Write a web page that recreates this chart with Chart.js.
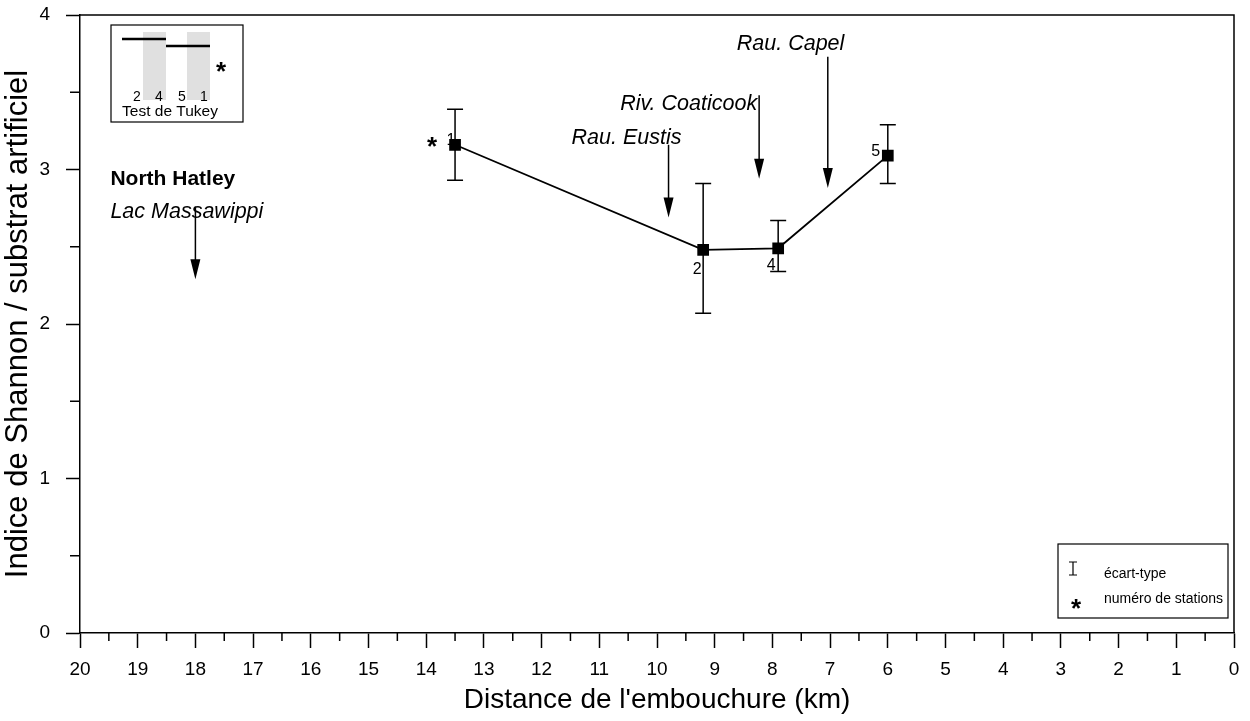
<!DOCTYPE html>
<html>
<head>
<meta charset="utf-8">
<script src="https://cdn.jsdelivr.net/npm/chart.js@4/dist/chart.umd.min.js"></script>
<style>
  html, body { margin: 0; padding: 0; background: #fff; }
  #wrap { width: 1250px; height: 721px; }
</style>
</head>
<body>
<div id="wrap"><canvas id="shannonChart" width="1250" height="721"></canvas></div>
<script>
// Stations along the river: distance to the mouth and Shannon index (mean, +/- sd)
const stations = ['1', '2', '4', '5'];
const distanceKm = [13.5, 9.2, 7.9, 6.0];
const shannon = [3.16, 2.48, 2.49, 3.09];
const sdHigh = [3.39, 2.91, 2.67, 3.29];
const sdLow = [2.93, 2.07, 2.34, 2.91];

// Tributaries / landmarks marked with arrows
const places = ['Lac Massawippi', 'Rau. Eustis', 'Riv. Coaticook', 'Rau. Capel'];
const placeKm = [18.0, 9.8, 8.23, 7.04];
const arrowFrom = [2.76, 3.16, 3.48, 3.73];
const arrowTo = [2.29, 2.69, 2.94, 2.88];

// Tukey test groups (station order in the inset)
const tukeyOrder = ['2', '4', '5', '1'];

const FONT = "'Liberation Sans', Arial, sans-serif";

// label offsets (px) relative to the arrow start
const placeOffsets = [[-85, 5], [-97, -7], [-139, 9], [-91, -13]];
// station number offsets (px) relative to the marker
const stationOffsets = [[-4, -4], [-6, 20], [-7, 17], [-12, -4]];

function star(ctx, x, y) {
  ctx.save();
  ctx.font = 'bold 26px ' + FONT;
  ctx.textAlign = 'center';
  ctx.textBaseline = 'alphabetic';
  ctx.fillText('*', x, y + 14);
  ctx.restore();
}

const decorations = {
  id: 'decorations',
  beforeDatasetsDraw(chart) {
    const { ctx, scales: { x, y } } = chart;
    ctx.save();
    ctx.strokeStyle = '#000';
    ctx.fillStyle = '#000';
    ctx.lineWidth = 1.5;
    // error bars
    distanceKm.forEach((d, i) => {
      const px = x.getPixelForValue(d);
      const top = y.getPixelForValue(sdHigh[i]);
      const bot = y.getPixelForValue(sdLow[i]);
      ctx.beginPath();
      ctx.moveTo(px, top); ctx.lineTo(px, bot);
      ctx.moveTo(px - 8, top); ctx.lineTo(px + 8, top);
      ctx.moveTo(px - 8, bot); ctx.lineTo(px + 8, bot);
      ctx.stroke();
    });
    // station numbers
    ctx.font = '16px ' + FONT;
    ctx.textAlign = 'center';
    ctx.textBaseline = 'middle';
    stations.forEach((s, i) => {
      const px = x.getPixelForValue(distanceKm[i]);
      const py = y.getPixelForValue(shannon[i]);
      ctx.fillText(s, px + stationOffsets[i][0], py + stationOffsets[i][1]);
    });
    ctx.restore();
    // significant station
    star(ctx, x.getPixelForValue(distanceKm[0]) - 23, y.getPixelForValue(shannon[0]) - 4);
  },
  afterDraw(chart) {
    const { ctx, chartArea: a, scales: { x, y } } = chart;
    ctx.save();
    ctx.strokeStyle = '#000';
    ctx.fillStyle = '#000';
    ctx.lineWidth = 1.5;

    // frame top and right
    ctx.beginPath();
    ctx.moveTo(a.left, a.top); ctx.lineTo(a.right, a.top); ctx.lineTo(a.right, a.bottom);
    ctx.stroke();

    // minor ticks
    ctx.beginPath();
    for (let k = 0.5; k < 20; k += 1) {
      const px = x.getPixelForValue(k);
      ctx.moveTo(px, a.bottom); ctx.lineTo(px, a.bottom + 8);
    }
    for (let k = 0.5; k < 4; k += 1) {
      const py = y.getPixelForValue(k);
      ctx.moveTo(a.left, py); ctx.lineTo(a.left - 10, py);
    }
    ctx.stroke();

    // arrows and place names
    places.forEach((name, i) => {
      const px = x.getPixelForValue(placeKm[i]);
      const y0 = y.getPixelForValue(arrowFrom[i]);
      const y1 = y.getPixelForValue(arrowTo[i]);
      ctx.beginPath();
      ctx.moveTo(px, y0); ctx.lineTo(px, y1 - 18);
      ctx.stroke();
      ctx.beginPath();
      ctx.moveTo(px - 5, y1 - 20); ctx.lineTo(px + 5, y1 - 20); ctx.lineTo(px, y1);
      ctx.closePath();
      ctx.fill();
      ctx.font = 'italic 21.5px ' + FONT;
      ctx.textAlign = 'left';
      ctx.textBaseline = 'middle';
      ctx.fillText(name, px + placeOffsets[i][0], y0 + placeOffsets[i][1]);
      if (i === 0) {
        ctx.font = 'bold 21px ' + FONT;
        ctx.fillText('North Hatley', px + placeOffsets[i][0], y0 + placeOffsets[i][1] - 32);
      }
    });

    // Tukey inset
    const bx = a.left + 31, by = a.top + 10;
    ctx.fillStyle = '#e0e0e0';
    ctx.fillRect(bx + 32, by + 7, 23, 68);
    ctx.fillRect(bx + 76, by + 7, 23, 68);
    ctx.fillStyle = '#000';
    ctx.lineWidth = 1.2;
    ctx.strokeRect(bx, by, 132, 97);
    ctx.lineWidth = 2.5;
    ctx.beginPath();
    ctx.moveTo(bx + 11, by + 14); ctx.lineTo(bx + 55, by + 14);
    ctx.moveTo(bx + 55, by + 21); ctx.lineTo(bx + 99, by + 21);
    ctx.stroke();
    ctx.font = '14px ' + FONT;
    ctx.textAlign = 'center';
    ctx.textBaseline = 'middle';
    const nx = [26, 48, 71, 93];
    tukeyOrder.forEach((s, i) => ctx.fillText(s, bx + nx[i], by + 72));
    ctx.font = '15.5px ' + FONT;
    ctx.fillText('Test de Tukey', bx + 59, by + 87);
    star(ctx, bx + 110, by + 41);

    // legend
    const lx = a.right - 176, ly = a.bottom - 89;
    ctx.lineWidth = 1.2;
    ctx.strokeRect(lx, ly, 170, 74);
    ctx.beginPath();
    ctx.moveTo(lx + 15, ly + 18); ctx.lineTo(lx + 15, ly + 31);
    ctx.moveTo(lx + 11, ly + 18); ctx.lineTo(lx + 19, ly + 18);
    ctx.moveTo(lx + 11, ly + 31); ctx.lineTo(lx + 19, ly + 31);
    ctx.stroke();
    star(ctx, lx + 18, ly + 59);
    ctx.font = '14px ' + FONT;
    ctx.textAlign = 'left';
    ctx.fillText('écart-type', lx + 46, ly + 30);
    ctx.fillText('numéro de stations', lx + 46, ly + 55);
    ctx.restore();
  }
};

const ctx = document.getElementById('shannonChart').getContext('2d');

new Chart(ctx, {
  type: 'scatter',
  data: {
    datasets: [{
      label: 'Indice de Shannon',
      data: distanceKm.map((d, i) => ({ x: d, y: shannon[i] })),
      showLine: true,
      borderColor: '#000',
      borderWidth: 1.8,
      backgroundColor: '#000',
      pointStyle: 'rect',
      pointRadius: 7,
      pointHoverRadius: 7
    }]
  },
  options: {
    responsive: false,
    animation: false,
    devicePixelRatio: 1,
    layout: { padding: { top: 15, right: 16, left: 0, bottom: 0 } },
    plugins: { legend: { display: false }, tooltip: { enabled: false } },
    scales: {
      x: {
        type: 'linear',
        reverse: true,
        min: 0,
        max: 20,
        afterFit(scale) { scale.height = 88; },
        ticks: { stepSize: 1, color: '#000', padding: 10, font: { family: FONT, size: 19 } },
        grid: { drawOnChartArea: false, drawTicks: true, tickLength: 15, tickColor: '#000', tickWidth: 1.5 },
        border: { display: true, color: '#000', width: 1.5 },
        title: {
          display: true,
          text: "Distance de l'embouchure (km)",
          color: '#000',
          font: { family: FONT, size: 28 },
          padding: { top: 0, bottom: 4 }
        }
      },
      y: {
        min: 0,
        max: 4,
        afterFit(scale) {
          scale.width = 80;
          scale.paddingTop = 0;
          scale.paddingBottom = 0;
        },
        ticks: { stepSize: 1, color: '#000', padding: 16, font: { family: FONT, size: 19 } },
        grid: { drawOnChartArea: false, drawTicks: true, tickLength: 14, tickColor: '#000', tickWidth: 1.5 },
        border: { display: true, color: '#000', width: 1.5 },
        title: {
          display: true,
          text: 'Indice de Shannon / substrat artificiel',
          color: '#000',
          font: { family: FONT, size: 31 },
          padding: { top: 0, bottom: 0 }
        }
      }
    }
  },
  plugins: [decorations]
});
</script>
</body>
</html>
